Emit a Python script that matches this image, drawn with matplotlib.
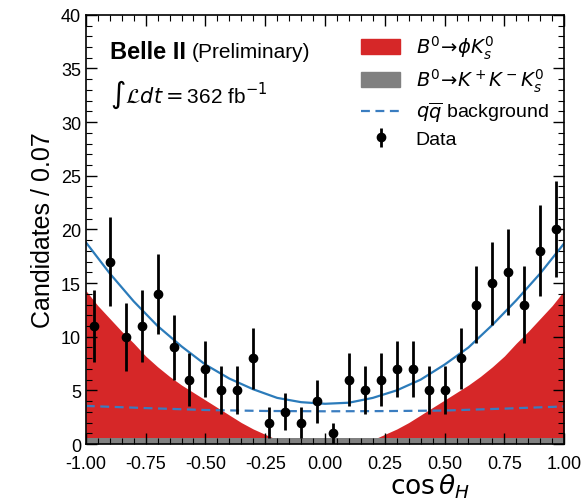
import numpy as np
import matplotlib
matplotlib.use("Agg")
from matplotlib import pyplot as plt
from matplotlib.ticker import MultipleLocator, FormatStrFormatter
from matplotlib.patches import Patch
from matplotlib.lines import Line2D

plt.rcParams['font.family'] = ['Liberation Sans', 'DejaVu Sans']
plt.rcParams['mathtext.fontset'] = 'dejavusans'

# data: 30 bins in cos(theta_H)
n_bins = 30
counts = [11, 17, 10, 11, 14, 9, 6, 7, 5, 5, 8, 2, 3, 2, 4,
          1, 6, 5, 6, 7, 7, 5, 5, 8, 13, 15, 16, 13, 18, 20]

fit_x = np.round(np.arange(-1.0, 1.01, 0.1), 2)
fit_total = [18.8, 15.9, 13.3, 11.0, 9.1, 7.4, 6.1, 5.1, 4.3, 3.9, 3.75,
             3.85, 4.3, 5.0, 6.0, 7.4, 9.0, 11.1, 13.4, 15.9, 18.7]

# qq background (dashed)
qq_x = [-1.0, -0.75, -0.5, -0.25, 0.0, 0.25, 0.5, 0.75, 1.0]
qq_y = [3.55, 3.35, 3.17, 3.08, 3.05, 3.07, 3.12, 3.3, 3.5]

# B0 -> K+K-Ks (grey band)
kkk_level = 0.6

# stacked signal top (red), vs |cos theta|
sig_u = [0.0, 0.22, 0.25, 0.30, 0.35, 0.40, 0.45, 0.50, 0.55, 0.60, 0.65,
         0.70, 0.75, 0.80, 0.85, 0.90, 0.95, 1.00]
sig_top = [0.6, 0.6, 0.9, 1.4, 2.0, 2.7, 3.4, 4.1, 4.8, 5.5, 6.3,
           7.2, 8.2, 9.4, 10.5, 11.7, 12.9, 14.3]

edges = np.linspace(-1, 1, n_bins + 1)
centers = 0.5 * (edges[1:] + edges[:-1])
counts = np.array(counts)
errs = np.sqrt(counts)

sx = np.concatenate([-np.array(sig_u[::-1]), np.array(sig_u[1:])])
sy = np.concatenate([np.array(sig_top[::-1]), np.array(sig_top[1:])])

fig = plt.figure(figsize=(5.84, 5.02), dpi=100)
ax = fig.add_axes([0.147, 0.1135, 0.819, 0.855])

ax.fill_between(sx, kkk_level, sy, color='#d62728', lw=0)
ax.fill_between([-1, 1], 0, kkk_level, color='#808080', lw=0)
ax.plot(fit_x, fit_total, color='#2b7bba', lw=1.6)
ax.plot(qq_x, qq_y, color='#3a7dc0', lw=1.6, ls=(0, (4, 2.5)))
data = ax.errorbar(centers, counts, yerr=errs, fmt='o', color='black',
                   ms=6, elinewidth=2, capsize=0)

ax.set_xlim(-1, 1)
ax.set_ylim(0, 40)
ax.xaxis.set_major_locator(MultipleLocator(0.25))
ax.xaxis.set_minor_locator(MultipleLocator(0.05))
ax.yaxis.set_major_locator(MultipleLocator(5))
ax.yaxis.set_minor_locator(MultipleLocator(1))
ax.xaxis.set_major_formatter(FormatStrFormatter('%.2f'))
ax.tick_params(which='both', direction='in', top=True, right=True, labelsize=13)
ax.tick_params(which='major', length=8, width=1)
ax.tick_params(which='minor', length=4, width=0.8)
ax.tick_params(axis='x', which='major', pad=8)
for s in ax.spines.values():
    s.set_linewidth(1.2)

ax.set_xlabel(r'$\cos\theta_H$', fontsize=19)
ax.xaxis.set_label_coords(0.72, -0.065)
ax.set_ylabel('Candidates / 0.07', fontsize=18, labelpad=4)

t1 = ax.text(0.05, 0.915, 'Belle II', transform=ax.transAxes, fontsize=17,
             fontweight='bold', va='center')
ax.annotate('(Preliminary)', xy=(1, 0.5), xycoords=t1, xytext=(4, 0),
            textcoords='offset points', fontsize=15, va='center')
ax.text(0.05, 0.815, r'$\int\mathcal{L}dt = $362 fb$^{-1}$',
        transform=ax.transAxes, fontsize=15, va='center')

handles = [Patch(color='#d62728'), Patch(color='#808080'),
           Line2D([], [], color='#3a7dc0', lw=1.6, ls=(0, (4, 2.5))),
           data]
labels = [r'$B^0\!\to\!\phi K_s^0$', r'$B^0\!\to\!K^+K^-K_s^0$',
          r'$q\overline{q}$ background', 'Data']
ax.legend(handles, labels, loc='upper right', frameon=False, fontsize=14,
          handlelength=2.0, handleheight=0.8, labelspacing=0.3,
          handletextpad=0.8, borderaxespad=0.4,
          bbox_to_anchor=(1.0, 0.993))

fig.savefig('out.png', dpi=100)
